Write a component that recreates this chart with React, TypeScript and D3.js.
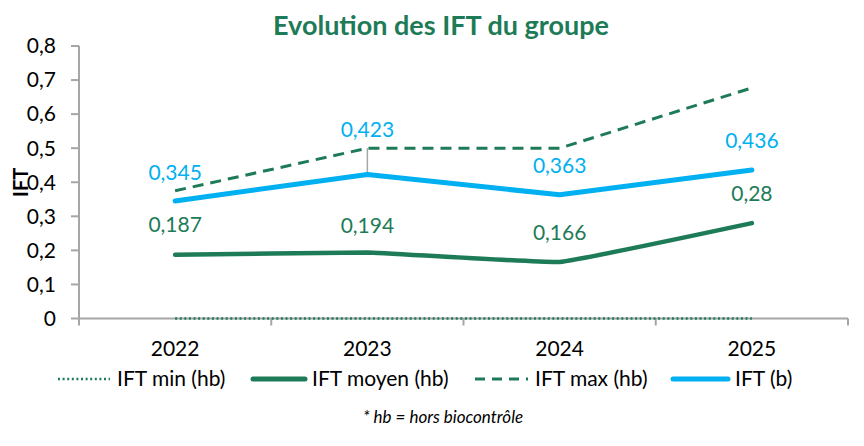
import React from 'react';
import * as d3 from 'd3';

const years = ['2022', '2023', '2024', '2025'];
const iftMin = [0, 0, 0, 0];
const iftMoyen = [0.187, 0.194, 0.166, 0.28];
const iftMax = [0.375, 0.5, 0.5, 0.677];
const iftB = [0.345, 0.423, 0.363, 0.436];
const yTicks = [0, 0.1, 0.2, 0.3, 0.4, 0.5, 0.6, 0.7, 0.8];
// grey drop line shown only for 2023 (max -> IFT b)
const dropYears = ['2023'];

// how far above the point each label sits (px)
const liftB = [28, 45, 29, 29];
const liftMoyen = [30, 27, 29, 29];

const GREEN = '#1e7b57';
const BLUE = '#00b0f0';
const GREY = '#a6a6a6';
const FONT = 'Lato, "Open Sans", sans-serif';

const fmt = (v: number) => String(v).replace('.', ',');

export default function App() {
  const width = 864;
  const height = 446;
  const margin = { left: 79, right: 16, top: 46, bottom: 128 };

  const x = d3.scaleBand<string>()
    .domain(years)
    .range([margin.left, width - margin.right]);
  const y = d3.scaleLinear()
    .domain([0, 0.8])
    .range([height - margin.bottom + 0.5, margin.top]);

  const cx = (d: string) => (x(d) as number) + x.bandwidth() / 2;

  const straight = d3.line<number>()
    .x((_, i) => cx(years[i]))
    .y(d => y(d));
  const smooth = d3.line<number>()
    .x((_, i) => cx(years[i]))
    .y(d => y(d))
    .curve(d3.curveCardinal.tension(0.75));

  const y0 = y(0);

  const legend = [
    { label: 'IFT min (hb)', x: 58, w: 52, stroke: GREEN, sw: 2.5, dash: '2,2.6' },
    { label: 'IFT moyen (hb)', x: 253, w: 52, stroke: GREEN, sw: 5, dash: null },
    { label: 'IFT max (hb)', x: 475, w: 53, stroke: GREEN, sw: 3, dash: '10,7' },
    { label: 'IFT (b)', x: 673, w: 55, stroke: BLUE, sw: 5, dash: null },
  ];

  return (
    <svg
      width={width}
      height={height}
      style={{ position: 'absolute', left: 0, top: 0, background: '#fff' }}
      fontFamily={FONT}
    >
      <text x={441} y={35} textAnchor="middle" fontSize={27} fontWeight={700} fill={GREEN}>
        Evolution des IFT du groupe
      </text>

      <text
        transform={`translate(21,${(y(0) + y(0.8)) / 2}) rotate(-90)`}
        textAnchor="middle"
        fontSize={20}
        fontWeight={700}
        fill="#000"
        dy="0.35em"
      >
        IFT
      </text>

      {/* y axis */}
      <line x1={margin.left} x2={margin.left} y1={y(0.8)} y2={y0} stroke={GREY} strokeWidth={2} />
      {yTicks.map(t => (
        <g key={t}>
          <line x1={margin.left - 8} x2={margin.left} y1={y(t)} y2={y(t)} stroke={GREY} strokeWidth={2} />
          <text x={56} y={y(t)} dy="0.35em" textAnchor="end" fontSize={21} fill="#000">
            {fmt(t)}
          </text>
        </g>
      ))}

      {/* x axis */}
      <line x1={margin.left} x2={width - margin.right} y1={y0} y2={y0} stroke={GREY} strokeWidth={2} />
      {[...years.map(d => x(d) as number), width - margin.right].map((px, i) => (
        <line key={i} x1={px} x2={px} y1={y0} y2={y0 + 7} stroke={GREY} strokeWidth={2} />
      ))}
      {years.map(d => (
        <text key={d} x={cx(d)} y={349} dy="0.35em" textAnchor="middle" fontSize={21} fill="#000">
          {d}
        </text>
      ))}

      {/* drop line */}
      {dropYears.map(d => {
        const i = years.indexOf(d);
        return (
          <line key={d} x1={cx(d)} x2={cx(d)} y1={y(iftMax[i])} y2={y(iftB[i])} stroke={GREY} strokeWidth={1.5} />
        );
      })}

      {/* series */}
      <path d={straight(iftMin) as string} fill="none" stroke={GREEN} strokeWidth={2.5} strokeDasharray="2,2.6" />
      <path d={smooth(iftMoyen) as string} fill="none" stroke={GREEN} strokeWidth={4.5} strokeLinecap="round" />
      <path d={straight(iftMax) as string} fill="none" stroke={GREEN} strokeWidth={3} strokeDasharray="11,7" />
      <path d={straight(iftB) as string} fill="none" stroke={BLUE} strokeWidth={5} strokeLinecap="round" strokeLinejoin="round" />

      {/* labels */}
      {iftB.map((v, i) => (
        <text key={'b' + i} x={cx(years[i])} y={y(v) - liftB[i]} dy="0.35em" textAnchor="middle" fontSize={21} fill={BLUE}>
          {fmt(v)}
        </text>
      ))}
      {iftMoyen.map((v, i) => (
        <text key={'m' + i} x={cx(years[i])} y={y(v) - liftMoyen[i]} dy="0.35em" textAnchor="middle" fontSize={21} fill={GREEN}>
          {fmt(v)}
        </text>
      ))}

      {/* legend */}
      {legend.map(l => (
        <g key={l.label}>
          <line
            x1={l.x}
            x2={l.x + l.w}
            y1={379}
            y2={379}
            stroke={l.stroke}
            strokeWidth={l.sw}
            strokeDasharray={l.dash || undefined}
            strokeLinecap={l.dash ? 'butt' : 'round'}
          />
          <text x={l.x + l.w + 7} y={379} dy="0.35em" fontSize={21} fill="#000">
            {l.label}
          </text>
        </g>
      ))}

      <text x={443} y={417} dy="0.35em" textAnchor="middle" fontSize={17} fontStyle="italic" fill="#000">
        * hb = hors biocontrôle
      </text>
    </svg>
  );
}
